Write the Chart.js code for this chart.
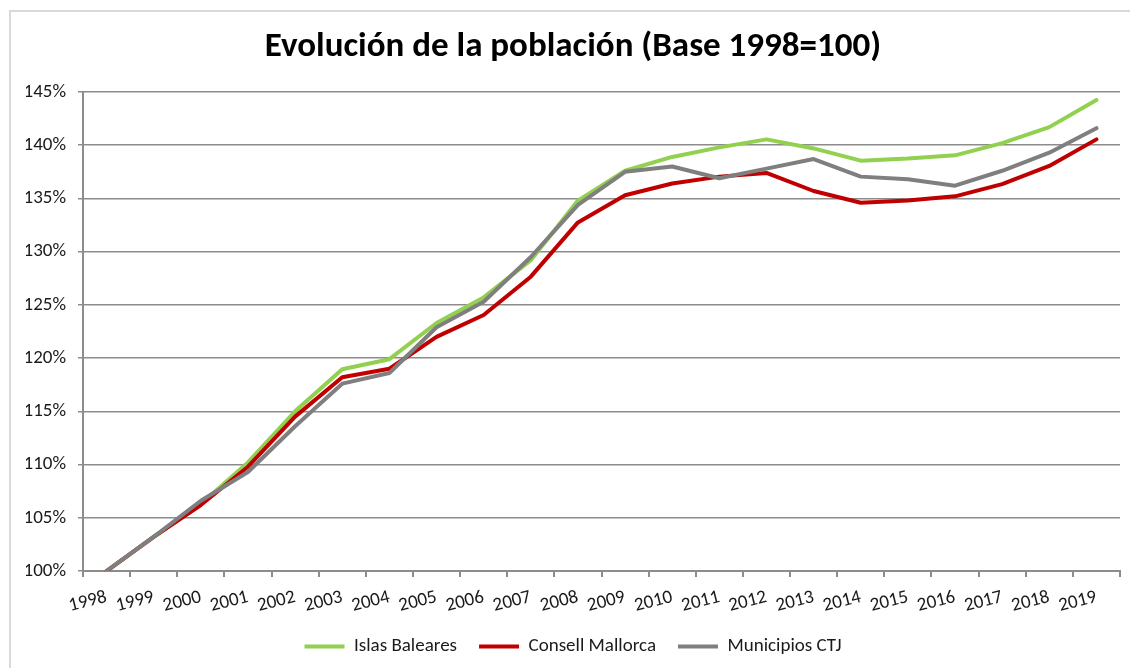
<!DOCTYPE html>
<html>
<head>
<meta charset="utf-8">
<script src="https://cdn.jsdelivr.net/npm/chart.js@4/dist/chart.umd.min.js"></script>
<style>
  html, body { margin: 0; padding: 0; background: #fff; }
  #frame { position: absolute; left: 9px; top: 10px; width: 1200px; height: 800px; border-top: 2px solid #d9d9d9; border-left: 2px solid #d9d9d9; }
  #wrap { position: absolute; left: 0; top: 0; width: 1130px; height: 668px; }
</style>
</head>
<body>
<div id="frame"></div>
<div id="wrap"><canvas id="chart" width="1130" height="668"></canvas></div>
<script>
// years on the category axis
const years = ['1998', '1999', '2000', '2001', '2002', '2003', '2004', '2005', '2006', '2007', '2008',
               '2009', '2010', '2011', '2012', '2013', '2014', '2015', '2016', '2017', '2018', '2019'];

// index values, base 1998 = 100
const islasBaleares = [100, 103.2, 106.3, 110.2, 115.0, 118.95, 119.9, 123.3, 125.7, 129.2, 134.8,
                       137.6, 138.9, 139.8, 140.55, 139.7, 138.55, 138.75, 139.05, 140.2, 141.7, 144.25];
const consellMallorca = [100, 103.2, 106.2, 109.8, 114.5, 118.2, 119.0, 122.0, 124.05, 127.65, 132.75,
                         135.3, 136.4, 137.05, 137.4, 135.7, 134.6, 134.8, 135.2, 136.35, 138.05, 140.55];
const municipiosCTJ = [100, 103.2, 106.6, 109.3, 113.6, 117.6, 118.6, 122.9, 125.3, 129.5, 134.4,
                       137.5, 138.0, 136.9, 137.8, 138.7, 137.05, 136.8, 136.2, 137.6, 139.3, 141.6];

const yTicks = [100, 105, 110, 115, 120, 125, 130, 135, 140, 145];

const FONT = 'Carlito, Lato, "Open Sans", sans-serif';
const GRID = '#8c8c8c';

new Chart(document.getElementById('chart'), {
    type: 'line',
    data: {
        labels: years,
        datasets: [
            { label: 'Islas Baleares', data: islasBaleares, borderColor: '#92d050', backgroundColor: '#92d050', borderWidth: 4, order: 3 },
            { label: 'Consell Mallorca', data: consellMallorca, borderColor: '#c00000', backgroundColor: '#c00000', borderWidth: 4, order: 2 },
            { label: 'Municipios CTJ', data: municipiosCTJ, borderColor: '#7f7f7f', backgroundColor: '#7f7f7f', borderWidth: 4, order: 1 }
        ]
    },
    options: {
        responsive: false,
        animation: false,
        // left padding + y width = 83 keeps the plot edge, and centres title/legend like the original
        layout: { padding: { left: 26, right: 10, top: 0, bottom: 2 } },
        elements: {
            line: { tension: 0, borderCapStyle: 'round', borderJoinStyle: 'round' },
            point: { radius: 0 }
        },
        plugins: {
            title: {
                display: true,
                text: 'Evolución de la población (Base 1998=100)',
                color: '#000',
                font: { family: FONT, size: 35, weight: 'bold' },
                padding: { top: 26, bottom: 24 }
            },
            legend: {
                position: 'bottom',
                labels: {
                    usePointStyle: true,
                    pointStyle: 'line',
                    pointStyleWidth: 40,
                    boxHeight: 19,
                    padding: 22,
                    color: '#1a1a1a',
                    font: { family: FONT, size: 19 },
                    sort: (a, b) => a.datasetIndex - b.datasetIndex
                }
            },
            tooltip: { enabled: false }
        },
        scales: {
            x: {
                offset: true,
                grid: { display: true, drawOnChartArea: false, drawTicks: true, offset: true, tickLength: 6, color: GRID, lineWidth: 2 },
                border: { display: true, color: GRID, width: 2 },
                ticks: {
                    autoSkip: false, minRotation: 14, maxRotation: 14, padding: 9,
                    color: '#1a1a1a', font: { family: FONT, size: 19 }
                },
                afterFit: (scale) => { scale.height = 44; }
            },
            y: {
                min: 100,
                max: 145,
                afterBuildTicks: (scale) => { scale.ticks = yTicks.map(v => ({ value: v })); },
                grid: { color: GRID, lineWidth: 1.5, tickLength: 5 },
                border: { display: true, color: GRID, width: 2 },
                ticks: {
                    padding: 12,
                    color: '#1a1a1a',
                    font: { family: FONT, size: 19 },
                    callback: (v) => v + '%'
                },
                afterFit: (scale) => { scale.width = 57; }
            }
        }
    }
});
</script>
</body>
</html>
